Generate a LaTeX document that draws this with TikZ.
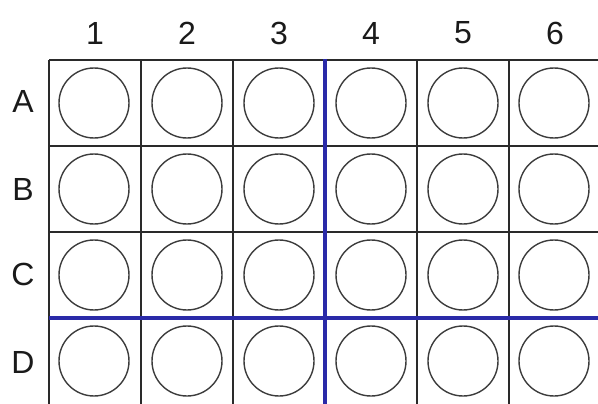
\documentclass[tikz,border=0pt]{standalone}
\usepackage{fontspec}
\setmainfont{Liberation Sans}
\definecolor{gridc}{HTML}{2A2A2A}
\definecolor{bluec}{HTML}{2A2AA8}
\definecolor{wellc}{HTML}{3C3C3C}
\definecolor{labc}{HTML}{1A1A1A}
\begin{document}
\begin{tikzpicture}[x=1pt,y=-1pt,
  gridline/.style={draw=gridc,line width=2pt},
  blueline/.style={draw=bluec,line width=3.4pt},
  well/.style={circle,draw=wellc,line width=1.4pt,minimum size=70pt,inner sep=0pt},
  lab/.style={text=labc,font=\fontsize{32}{35}\selectfont,inner sep=0pt}]
\useasboundingbox (0,0) rectangle (598,404);
% grid
\foreach \x in {49,141,233,417,509}
  \draw[gridline] (\x,60) -- (\x,404);
\foreach \y in {60,146,232}
  \draw[gridline] (49,\y) -- (598,\y);
\draw[blueline] (49,318) -- (598,318);
\draw[blueline] (325,59) -- (325,404);
% column labels
\foreach \c/\x in {1/95,2/187,3/279,4/371,5/463,6/555}
  \node[lab] (col\c) at (\x,33) {\c};
% row labels
\foreach \r/\y in {A/101,B/189,C/274,D/362}
  \node[lab] (row\r) at (23,\y) {\r};
% wells
\foreach \r/\y in {A/103,B/189,C/275,D/361}
  \foreach \c/\x in {1/94,2/187,3/279,4/371,5/463,6/554}
    \node[well] (w\r\c) at (\x,\y) {};
\end{tikzpicture}
\end{document}
